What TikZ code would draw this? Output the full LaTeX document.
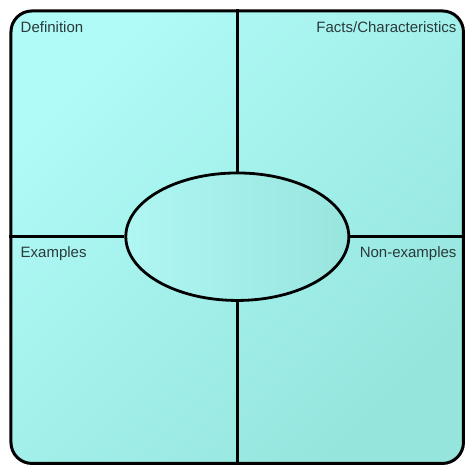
\documentclass[tikz,border=0pt]{standalone}
\usepackage{fontspec}
\setmainfont{Liberation Sans}
\usetikzlibrary{shapes.geometric}
\definecolor{cTL}{HTML}{B0FAF7}
\definecolor{cBR}{HTML}{95E5DD}
\definecolor{eL}{HTML}{B0F6F3}
\definecolor{eR}{HTML}{98E5DE}
\definecolor{txt}{HTML}{2B3A3A}
\tikzset{
  frame/.style={draw=black, line width=3pt, rounded corners=21pt, minimum width=452.5pt, minimum height=452.5pt, inner sep=0pt,
    top color=cTL, bottom color=cBR, shading angle=45},
  centre/.style={ellipse, draw=black, line width=2.8pt, minimum width=223pt, minimum height=127.5pt, inner sep=0pt,
    left color=eL, right color=eR},
  divider/.style={line width=2.8pt, draw=black},
  lbl/.style={text=txt, font=\fontsize{15pt}{17pt}\selectfont, inner sep=0pt}
}
\begin{document}
\begin{tikzpicture}[x=1pt,y=-1pt]
\useasboundingbox (0,0) rectangle (474,474);
\node[frame] (box) at (237.2,237.2) {};
\node[centre] (e) at (237.3,236.7) {};
\draw[divider] (box.north -| e.north) -- (e.north);
\draw[divider] (e.south) -- (box.south -| e.south);
\draw[divider] (box.west |- e.west) -- (e.west);
\draw[divider] (e.east) -- (box.east |- e.east);
\node[lbl, anchor=base west] (def) at (20.5,32.3) {Definition};
\node[lbl, anchor=base east] (fac) at (456.7,32.3) {Facts/Characteristics};
\node[lbl, anchor=base west] (ex) at (20.5,257.3) {Examples};
\node[lbl, anchor=base east] (nex) at (456.7,257.3) {Non-examples};
\end{tikzpicture}
\end{document}
